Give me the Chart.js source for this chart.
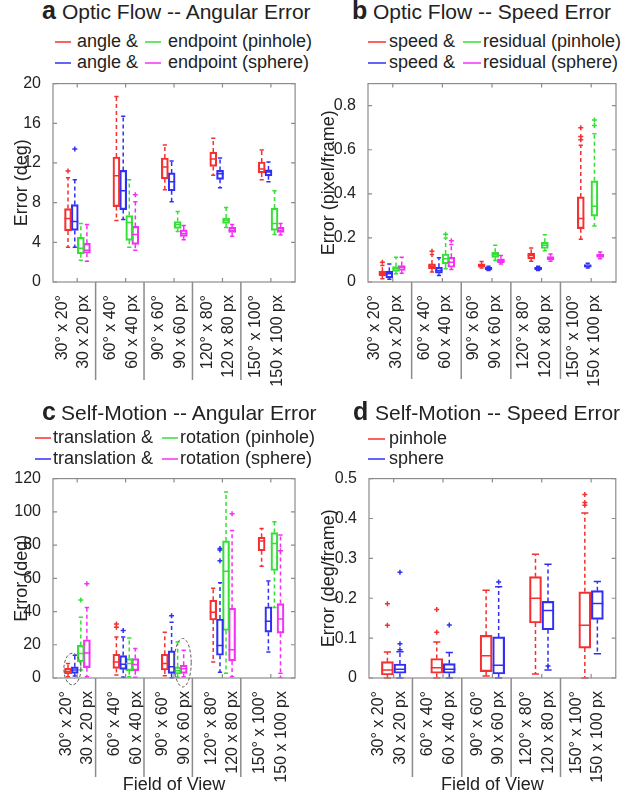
<!DOCTYPE html>
<html>
<head>
<meta charset="utf-8">
<script src="https://cdn.jsdelivr.net/npm/chart.js@4"></script>
<style>
  body { margin: 0; width: 641px; height: 797px; position: relative; background: #fff; overflow: hidden;
         font-family: 'Liberation Sans', Arial, sans-serif; color: #222; }
  canvas { position: absolute; }
  .title { position: absolute; white-space: nowrap; font-size: 21px; line-height: 26px; }
  .title b { display: inline-block; font-size: 25px; }
  .lg { position: absolute; white-space: nowrap; font-size: 18px; line-height: 20px; }
  .key { position: absolute; height: 2px; opacity: 0.75; }
</style>
</head>
<body>
<script>
const red = '#f53030', blue = '#3030f5', green = '#35e035', magenta = '#f530f5'

// x categories (field of view)
const fovDeg = ['30° x 20°', '60° x 40°', '90° x 60°', '120° x 80°', '150° x 100°']
const fovPx = ['30 x 20 px', '60 x 40 px', '90 x 60 px', '120 x 80 px', '150 x 100 px']

// every box row: [low whisker, q1, median, q3, high whisker]
// a: optic flow, angular error (deg)
const aAnglePin = [[3.5, 5.15, 6.4, 7.4, 10.5], [6.2, 7.6, 10.7, 12.6, 18.7], [9.3, 10.4, 11.6, 12.5, 13.8], [10.75, 11.65, 12.4, 13.1, 14.5], [10.3, 11.0, 11.4, 12.1, 13.3]]
const aAnglePinOut = [[11.2], [], [], [], []]
const aAngleSph = [[3.5, 5.2, 6.1, 7.8, 10.3], [6.3, 7.3, 9.2, 11.25, 16.7], [8.1, 9.2, 10.1, 11.0, 12.2], [9.5, 10.35, 10.9, 11.25, 12.5], [10.1, 10.7, 11.1, 11.3, 12.1]]
const aAngleSphOut = [[13.4], [], [], [], []]
const aEndPin = [[2.2, 2.85, 3.4, 4.5, 5.9], [3.5, 4.2, 6.0, 6.7, 10.3], [5.1, 5.4, 5.8, 6.1, 7.1], [5.5, 5.9, 6.2, 6.45, 7.5], [4.8, 5.2, 5.9, 7.45, 9.2]]
const aEndPinOut = [[], [], [], [], []]
const aEndSph = [[2.1, 2.9, 3.2, 3.9, 5.8], [3.2, 3.8, 4.8, 5.6, 8.1], [4.25, 4.6, 4.9, 5.25, 5.7], [4.6, 5.0, 5.2, 5.5, 5.8], [4.75, 5.0, 5.2, 5.5, 5.9]]
const aEndSphOut = [[], [8.8], [], [], []]

// b: optic flow, speed error (pixel/frame)
const bSpeedPin = [[0.015, 0.028, 0.04, 0.049, 0.075], [0.045, 0.06, 0.072, 0.082, 0.125], [0.063, 0.067, 0.075, 0.082, 0.093], [0.094, 0.105, 0.12, 0.13, 0.154], [0.194, 0.242, 0.288, 0.386, 0.62]]
const bSpeedPinOut = [[0.09], [0.14], [], [], [0.645, 0.66, 0.70]]
const bSpeedSph = [[0.012, 0.019, 0.037, 0.048, 0.082], [0.03, 0.04, 0.052, 0.067, 0.11], [0.052, 0.055, 0.06, 0.066, 0.072], [0.052, 0.055, 0.061, 0.067, 0.072], [0.063, 0.067, 0.072, 0.079, 0.085]]
const bSpeedSphOut = [[], [], [], [], []]
const bResPin = [[0.037, 0.048, 0.061, 0.07, 0.112], [0.06, 0.082, 0.105, 0.127, 0.2], [0.097, 0.112, 0.124, 0.135, 0.167], [0.142, 0.152, 0.167, 0.18, 0.214], [0.254, 0.299, 0.344, 0.459, 0.673]]
const bResPinOut = [[], [0.217], [], [], [0.71, 0.735]]
const bResSph = [[0.04, 0.052, 0.066, 0.075, 0.112], [0.057, 0.067, 0.09, 0.112, 0.17], [0.082, 0.087, 0.096, 0.105, 0.12], [0.094, 0.1, 0.108, 0.115, 0.127], [0.105, 0.112, 0.12, 0.127, 0.136]]
const bResSphOut = [[], [0.187], [], [], []]

// c: self-motion, angular error (deg)
const cTransPin = [[0.8, 2.4, 3.8, 5.75, 8.7], [1.8, 5.75, 9.7, 14.3, 24.6], [1.4, 4.8, 8.7, 14.3, 27.6], [9.7, 34.9, 39.5, 46.8, 54], [67.3, 76.6, 82.5, 84.7, 90]]
const cTransPinOut = [[], [30.5, 32.5], [], [], []]
const cTransSph = [[1.2, 2.8, 4.8, 6.7, 13.7], [0.4, 5.2, 8.3, 13.5, 24.6], [0.2, 2.8, 6.7, 16.3, 33.5], [3.4, 13.7, 19.6, 35.5, 57.3], [15.7, 27.6, 34.1, 42.9, 58.3]]
const cTransSphOut = [[], [28.6], [37.5], [70.6, 77, 78], []]
const cRotPin = [[4.8, 9.7, 14.7, 19.6, 36.5], [0.8, 4.4, 8.7, 11.7, 24], [0.4, 2.4, 4.4, 6.7, 21.6], [2.8, 28.6, 64.3, 82.5, 112], [42.5, 64.7, 81, 87.5, 94]]
const cRotPinOut = [[47], [], [], [], []]
const cRotSph = [[0.8, 6.2, 15, 23, 42.5], [0.4, 4.4, 8.1, 11.7, 17.7], [0.8, 2.8, 5.6, 7.7, 16.7], [0.8, 10.3, 17, 42, 88.7], [2.8, 27, 35.5, 44.8, 86]]
const cRotSphOut = [[56.7], [], [], [98.8], [0, 76.6]]
// dashed circles marking groups: [x (group + offset), y, x radius, y radius] in data units
const cCircles = [[0.9, 5.4, 0.175, 9.5], [3.18, 9.2, 0.175, 14.6]]

// d: self-motion, speed error (deg/frame)
const dPin = [[0, 0.0075, 0.02, 0.041, 0.065], [0, 0.012, 0.026, 0.049, 0.09], [0.005, 0.016, 0.056, 0.107, 0.22], [0.01, 0.138, 0.2, 0.254, 0.31], [0, 0.075, 0.132, 0.216, 0.414]]
const dPinOut = [[0.132, 0.186], [0.115, 0.172], [], [], [0.433, 0.44, 0.46]]
const dSph = [[0, 0.012, 0.022, 0.035, 0.066], [0, 0.012, 0.022, 0.036, 0.064], [0, 0.01, 0.032, 0.103, 0.229], [0.02, 0.121, 0.169, 0.192, 0.285], [0.061, 0.147, 0.187, 0.219, 0.242]]
const dSphOut = [[0.071, 0.086, 0.265], [0.133], [0.241], [0.03], []]


function addText(cls, left, top, html, extra) {
    const d = document.createElement('div')
    d.className = cls
    d.style.left = left + 'px'
    d.style.top = top + 'px'
    d.innerHTML = html
    if (extra) d.style.cssText += extra
    document.body.appendChild(d)
}

function boxPanel(p) {
    // title + legend
    addText('title', p.title.lx, p.title.y - 15,
        `<b style="width:${p.title.tx - p.title.lx}px">${p.letter}</b>${p.name}`)
    p.series.forEach((s, i) => {
        const col = p.legend.cols[Math.floor(i / 2)]
        const y = p.legend.rows[i % 2]
        addText('key', col.lx, y - 1, '', `width:${p.legend.w}px;background:${s.color}`)
        addText('lg', col.tx, y - 11, s.label)
    })

    const cv = document.createElement('canvas')
    cv.width = p.w
    cv.height = p.h
    cv.style.left = p.left + 'px'
    cv.style.top = p.top + 'px'
    document.body.appendChild(cv)

    const datasets = []
    p.series.forEach((s, i) => {
        datasets.push({
            type: 'bar',
            label: s.label,
            data: s.stats.map((st, g) => ({ x: g + 1 + p.offsets[i], y: [st[1], st[3]] })),
            backgroundColor: 'rgba(0,0,0,0)',
            borderColor: s.color,
            borderWidth: 1.5,
            borderSkipped: false,
            grouped: false,
            barThickness: p.boxW,
            maxBarThickness: p.boxW,
        })
    })
    p.series.forEach((s, i) => {
        datasets.push({
            type: 'scatter',
            data: s.out.flatMap((vals, g) => vals.map(v => ({ x: g + 1 + p.offsets[i], y: v }))),
            pointStyle: 'cross',
            pointRadius: 2.5,
            borderColor: s.color,
            borderWidth: 1.5,
        })
    })

    const a = p.area
    new Chart(cv, {
        type: 'bar',
        data: { datasets },
        options: {
            responsive: false,
            animation: false,
            devicePixelRatio: 1,
            events: [],
            layout: { padding: { left: 0, top: a.top - p.top, right: p.left + p.w - a.right, bottom: 0 } },
            plugins: { legend: { display: false }, tooltip: { enabled: false } },
            scales: {
                x: {
                    type: 'linear',
                    min: 0.5,
                    max: 5.5,
                    offset: false,
                    grid: { display: false, offset: false },
                    border: { display: false },
                    afterBuildTicks: sc => { sc.ticks = fovDeg.map((_, i) => ({ value: i + 1 })) },
                    afterFit: sc => { sc.height = p.top + p.h - a.bottom },
                    ticks: {
                        autoSkip: false,
                        minRotation: 90,
                        maxRotation: 90,
                        padding: 5,
                        labelOffset: p.labelOffset,
                        color: '#222',
                        font: { family: "'Liberation Sans', Arial", size: 16, lineHeight: 1.35 },
                        callback: v => [fovDeg[v - 1], fovPx[v - 1]],
                    },
                    title: {
                        display: !!p.xTitle,
                        text: p.xTitle,
                        color: '#222',
                        padding: { top: 0, bottom: 1 },
                        font: { family: "'Liberation Sans', Arial", size: 18 },
                    },
                },
                y: {
                    min: 0,
                    max: p.yMax,
                    grid: { display: false },
                    border: { display: false },
                    afterFit: sc => { sc.width = a.left - p.left },
                    ticks: {
                        stepSize: p.yStep,
                        padding: 4,
                        color: '#222',
                        font: { family: "'Liberation Sans', Arial", size: 16 },
                        callback: p.yLabel,
                    },
                    title: {
                        display: true,
                        text: p.yTitle,
                        color: '#222',
                        padding: { top: p.yTitlePad, bottom: 0 },
                        font: { family: "'Liberation Sans', Arial", size: 18 },
                    },
                },
            },
        },
        plugins: [{
            id: 'whiskers',
            afterDatasetsDraw(chart) {
                const { ctx, scales: { x, y } } = chart
                ctx.save()
                ctx.lineWidth = 1.5
                p.series.forEach((s, i) => {
                    ctx.strokeStyle = s.color
                    s.stats.forEach((st, g) => {
                        const px = x.getPixelForValue(g + 1 + p.offsets[i])
                        const [lo, q1, med, q3, hi] = st.map(v => y.getPixelForValue(v))
                        const hw = p.boxW / 2, cw = p.boxW * 0.3
                        ctx.setLineDash([4, 3])
                        ctx.beginPath()
                        ctx.moveTo(px, q3); ctx.lineTo(px, hi)
                        ctx.moveTo(px, q1); ctx.lineTo(px, lo)
                        ctx.stroke()
                        ctx.setLineDash([])
                        ctx.beginPath()
                        ctx.moveTo(px - cw, hi); ctx.lineTo(px + cw, hi)
                        ctx.moveTo(px - cw, lo); ctx.lineTo(px + cw, lo)
                        ctx.moveTo(px - hw, med); ctx.lineTo(px + hw, med)
                        ctx.stroke()
                    })
                })
                ctx.restore()
            },
            afterDraw(chart) {
                const { ctx, chartArea: ca, scales: { x, y } } = chart
                ctx.save()
                ctx.strokeStyle = '#8c8c8c'
                ctx.lineWidth = 1.2
                ctx.strokeRect(ca.left, ca.top, ca.right - ca.left, ca.bottom - ca.top)
                ctx.beginPath()
                y.ticks.forEach(t => {
                    const py = y.getPixelForValue(t.value)
                    ctx.moveTo(ca.left, py); ctx.lineTo(ca.left + 4, py)
                    ctx.moveTo(ca.right, py); ctx.lineTo(ca.right - 4, py)
                })
                x.ticks.forEach(t => {
                    const px = x.getPixelForValue(t.value)
                    ctx.moveTo(px, ca.bottom); ctx.lineTo(px, ca.bottom - 4)
                    ctx.moveTo(px, ca.top); ctx.lineTo(px, ca.top + 4)
                })
                ctx.stroke()
                // group separators under the axis
                ctx.lineWidth = 1.5
                ctx.beginPath()
                for (let g = 1; g < fovDeg.length; g++) {
                    const px = x.getPixelForValue(g + 0.38)
                    ctx.moveTo(px, ca.bottom); ctx.lineTo(px, ca.bottom + p.sepLen)
                }
                ctx.stroke()
                if (p.circles) {
                    ctx.strokeStyle = '#555'
                    ctx.lineWidth = 1
                    ctx.setLineDash([3, 2])
                    p.circles.forEach(([cx, cy, rx, ry]) => {
                        const px = x.getPixelForValue(cx), py = y.getPixelForValue(cy)
                        ctx.beginPath()
                        ctx.ellipse(px, py, x.getPixelForValue(cx + rx) - px, py - y.getPixelForValue(cy + ry), 0, 0, Math.PI * 2)
                        ctx.stroke()
                    })
                }
                ctx.restore()
            },
        }],
    })
}

boxPanel({
    letter: 'a', name: 'Optic Flow -- Angular Error',
    title: { lx: 42, tx: 62, y: 12 },
    legend: { cols: [{ lx: 55, tx: 77 }, { lx: 145, tx: 168 }], rows: [42, 63], w: 16 },
    series: [
        { label: 'angle &', color: red, stats: aAnglePin, out: aAnglePinOut },
        { label: 'angle &', color: blue, stats: aAngleSph, out: aAngleSphOut },
        { label: 'endpoint (pinhole)', color: green, stats: aEndPin, out: aEndPinOut },
        { label: 'endpoint (sphere)', color: magenta, stats: aEndSph, out: aEndSphOut },
    ],
    left: 0, top: 70, w: 320, h: 330,
    area: { left: 53, top: 80, right: 311, bottom: 282 },
    offsets: [-0.19, -0.05, 0.075, 0.2], boxW: 7, labelOffset: -15, sepLen: 98,
    yMax: 20, yStep: 2, yLabel: v => (v % 4 === 0 ? v : ''),
    yTitle: 'Error (deg)', yTitlePad: 11,
})

boxPanel({
    letter: 'b', name: 'Optic Flow -- Speed Error',
    title: { lx: 352, tx: 373, y: 12 },
    legend: { cols: [{ lx: 368, tx: 389 }, { lx: 463, tx: 483 }], rows: [42, 63], w: 18 },
    series: [
        { label: 'speed &', color: red, stats: bSpeedPin, out: bSpeedPinOut },
        { label: 'speed &', color: blue, stats: bSpeedSph, out: bSpeedSphOut },
        { label: 'residual (pinhole)', color: green, stats: bResPin, out: bResPinOut },
        { label: 'residual (sphere)', color: magenta, stats: bResSph, out: bResSphOut },
    ],
    left: 320, top: 70, w: 321, h: 330,
    area: { left: 368, top: 80, right: 625, bottom: 282 },
    offsets: [-0.21, -0.07, 0.065, 0.18], boxW: 7, labelOffset: -18, sepLen: 97,
    yMax: 0.9, yStep: 0.1, yLabel: v => (Math.round(v * 10) % 2 === 0 ? (v === 0 ? '0' : v.toFixed(1)) : ''),
    yTitle: 'Error (pixel/frame)', yTitlePad: -2,
})

boxPanel({
    letter: 'c', name: 'Self-Motion -- Angular Error',
    title: { lx: 42, tx: 61, y: 413 },
    legend: { cols: [{ lx: 35, tx: 53 }, { lx: 162, tx: 180 }], rows: [438, 459], w: 16 },
    series: [
        { label: 'translation &', color: red, stats: cTransPin, out: cTransPinOut },
        { label: 'translation &', color: blue, stats: cTransSph, out: cTransSphOut },
        { label: 'rotation (pinhole)', color: green, stats: cRotPin, out: cRotPinOut },
        { label: 'rotation (sphere)', color: magenta, stats: cRotSph, out: cRotSphOut },
    ],
    left: 0, top: 465, w: 320, h: 332,
    area: { left: 53, top: 475, right: 310, bottom: 678 },
    offsets: [-0.19, -0.05, 0.075, 0.2], boxW: 7, labelOffset: -11, sepLen: 99,
    yMax: 120, yStep: 20, yLabel: v => v,
    yTitle: 'Error (deg)', yTitlePad: 11, xTitle: 'Field of View',
    circles: cCircles,
})

boxPanel({
    letter: 'd', name: 'Self-Motion -- Speed Error',
    title: { lx: 353, tx: 375, y: 413 },
    legend: { cols: [{ lx: 368, tx: 389 }], rows: [439, 459], w: 17 },
    series: [
        { label: 'pinhole', color: red, stats: dPin, out: dPinOut },
        { label: 'sphere', color: blue, stats: dSph, out: dSphOut },
    ],
    left: 320, top: 465, w: 321, h: 332,
    area: { left: 369, top: 476, right: 624, bottom: 678 },
    offsets: [-0.127, 0.127], boxW: 12, labelOffset: -15, sepLen: 99,
    yMax: 0.5, yStep: 0.05, yLabel: v => (Math.round(v * 100) % 10 === 0 ? (v === 0 ? '0' : v.toFixed(1)) : ''),
    yTitle: 'Error (deg/frame)', yTitlePad: -2, xTitle: 'Field of View',
})
</script>
</body>
</html>
